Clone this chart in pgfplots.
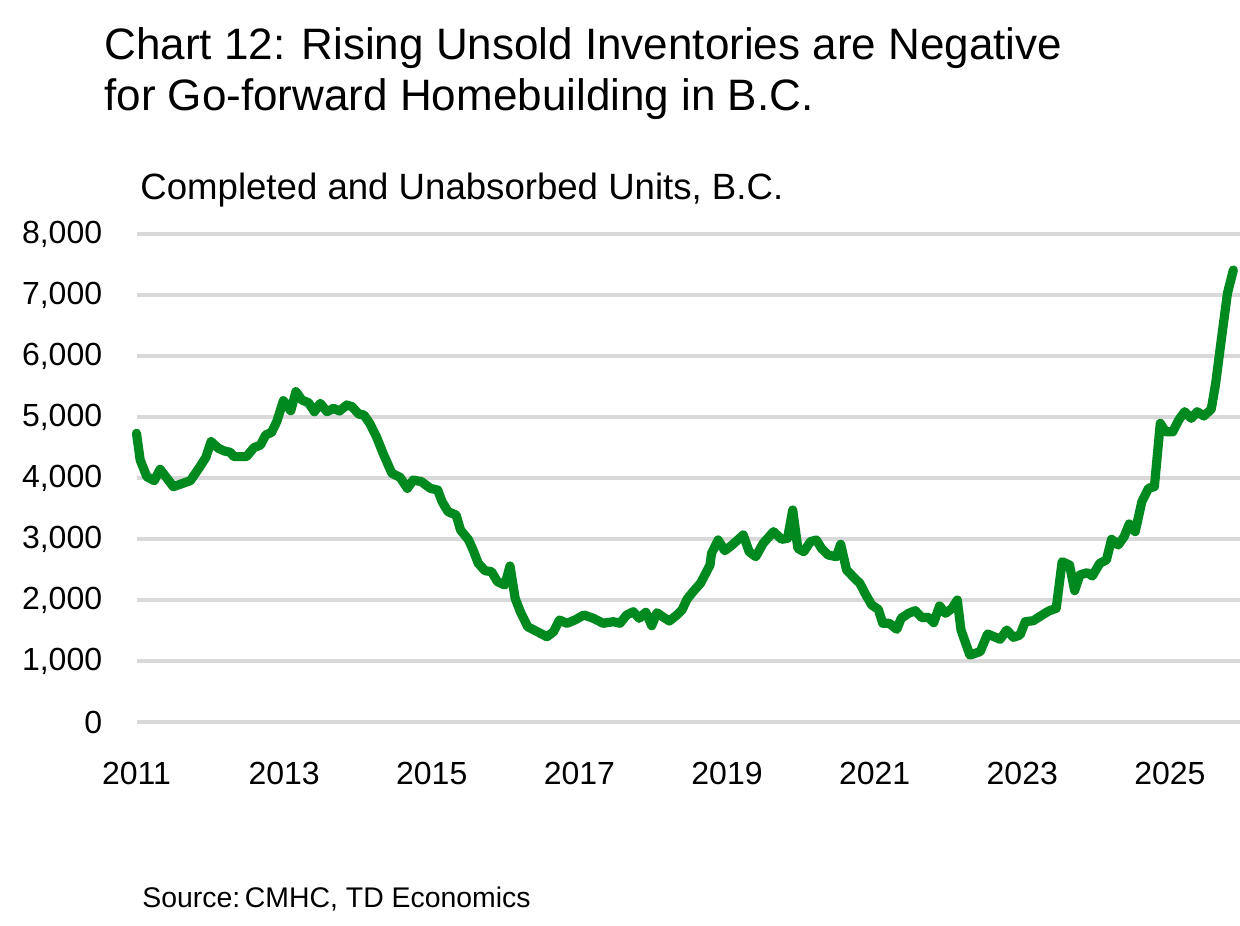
\documentclass[border=0pt]{standalone}
\usepackage{pgfplots}
\pgfplotsset{compat=1.18}
\usepackage{fontspec}
\setmainfont{Liberation Sans}
\definecolor{tdgreen}{RGB}{0,137,30}
\definecolor{gridgray}{RGB}{217,217,217}
\begin{document}
\begin{tikzpicture}
\useasboundingbox (0,0) rectangle (620pt,462.5pt);
\node[anchor=base west, inner sep=0pt, font=\fontsize{22}{26}\selectfont] at (52pt,432.5pt) {Chart 12: Rising Unsold Inventories are Negative};
\node[anchor=base west, inner sep=0pt, font=\fontsize{22}{26}\selectfont] at (52pt,407pt) {for Go-forward Homebuilding in B.C.};
\node[anchor=base west, inner sep=0pt, font=\fontsize{18.3}{22}\selectfont] at (70pt,362.5pt) {Completed and Unabsorbed Units, B.C.};
\node[anchor=base west, inner sep=0pt, font=\fontsize{14.2}{17}\selectfont] at (71pt,9pt) {Source:\,CMHC, TD Economics};
\begin{axis}[
  at={(68.25pt,101.5pt)}, anchor=south west,
  scale only axis, width=551.75pt, height=244pt,
  xmin=2011, xmax=2025.95, ymin=0, ymax=8000,
  clip=false,
  axis line style={draw=none},
  tick style={draw=none},
  major tick length=0pt,
  ymajorgrids,
  grid style={gridgray, line width=1.6pt},
  ytick={0,1000,...,8000},
  xtick={2011,2013,2015,2017,2019,2021,2023,2025},
  xticklabels={2011,2013,2015,2017,2019,2021,2023,2025},
  /pgf/number format/assume math mode=true,
  /pgf/number format/1000 sep={,},
  ticklabel style={font=\fontsize{16}{19}\selectfont},
  yticklabel style={anchor=east, inner sep=0pt, xshift=-17pt},
  xticklabel style={anchor=base, inner sep=0pt, yshift=-31.5pt},
]
\addplot[tdgreen, line width=4.6pt, line join=round, line cap=round] table {
x y
2011.00 4733
2011.05 4295
2011.14 4022
2011.24 3956
2011.32 4142
2011.50 3858
2011.73 3956
2011.86 4186
2011.94 4339
2012.01 4596
2012.11 4486
2012.19 4443
2012.27 4421
2012.32 4350
2012.49 4350
2012.59 4497
2012.68 4541
2012.75 4705
2012.83 4749
2012.90 4923
2012.99 5267
2013.09 5103
2013.16 5415
2013.24 5279
2013.33 5234
2013.41 5087
2013.49 5224
2013.58 5087
2013.67 5142
2013.75 5098
2013.85 5197
2013.92 5169
2014.01 5049
2014.08 5033
2014.16 4896
2014.25 4677
2014.34 4405
2014.46 4077
2014.57 4011
2014.67 3831
2014.75 3967
2014.86 3940
2014.98 3831
2015.08 3803
2015.14 3612
2015.22 3448
2015.33 3393
2015.39 3148
2015.50 2984
2015.56 2820
2015.63 2601
2015.72 2481
2015.81 2464
2015.89 2300
2015.99 2246
2016.06 2557
2016.13 2027
2016.20 1808
2016.30 1562
2016.56 1398
2016.65 1480
2016.73 1672
2016.83 1618
2016.94 1672
2017.06 1754
2017.19 1700
2017.32 1618
2017.46 1644
2017.55 1618
2017.64 1754
2017.73 1808
2017.81 1700
2017.90 1798
2017.98 1579
2018.05 1792
2018.14 1716
2018.22 1656
2018.32 1754
2018.39 1836
2018.46 2016
2018.54 2136
2018.64 2273
2018.70 2410
2018.77 2574
2018.79 2765
2018.88 2984
2018.97 2808
2019.07 2902
2019.22 3066
2019.30 2792
2019.39 2710
2019.49 2929
2019.63 3120
2019.74 2995
2019.82 3011
2019.89 3475
2019.96 2847
2020.04 2792
2020.13 2956
2020.21 2984
2020.28 2847
2020.37 2738
2020.48 2710
2020.54 2913
2020.62 2492
2020.73 2356
2020.80 2273
2020.87 2109
2020.96 1918
2021.05 1847
2021.11 1618
2021.20 1618
2021.30 1519
2021.36 1700
2021.46 1782
2021.55 1825
2021.64 1710
2021.73 1716
2021.80 1628
2021.88 1902
2021.96 1782
2022.05 1864
2022.12 2000
2022.17 1508
2022.29 1098
2022.43 1153
2022.53 1443
2022.70 1356
2022.79 1508
2022.88 1388
2022.97 1426
2023.04 1644
2023.15 1661
2023.27 1754
2023.36 1820
2023.46 1864
2023.54 2628
2023.64 2574
2023.71 2153
2023.78 2410
2023.88 2448
2023.95 2393
2024.05 2601
2024.14 2656
2024.21 2995
2024.30 2902
2024.38 3038
2024.45 3246
2024.53 3120
2024.62 3612
2024.71 3831
2024.79 3858
2024.87 4896
2024.94 4759
2025.04 4759
2025.12 4951
2025.20 5087
2025.29 4978
2025.37 5087
2025.46 5016
2025.56 5126
2025.62 5550
2025.70 6300
2025.78 7030
2025.86 7410
};
\end{axis}
\end{tikzpicture}
\end{document}
